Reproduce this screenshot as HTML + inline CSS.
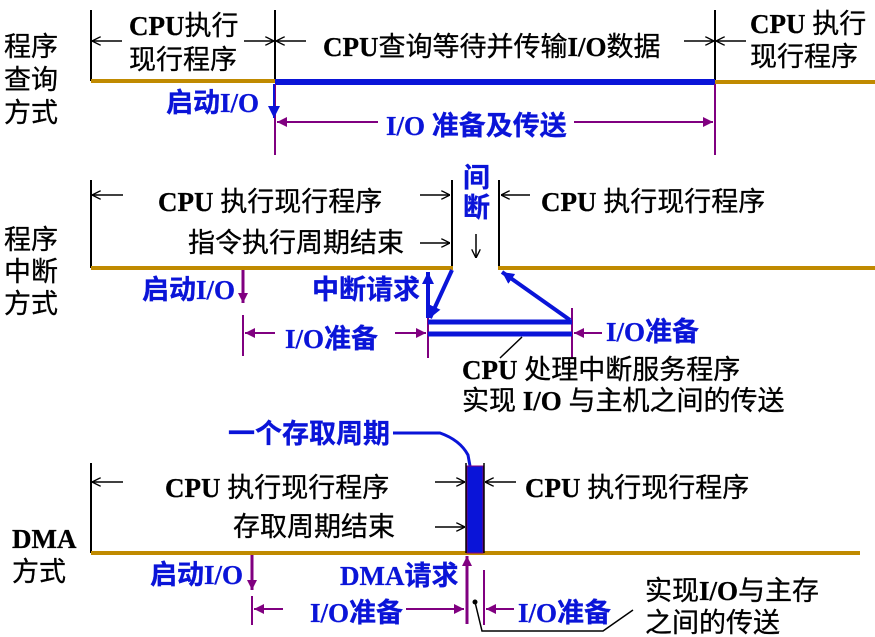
<!DOCTYPE html>
<html><head><meta charset="utf-8"><style>
html,body{margin:0;padding:0;background:#fff;}
svg{display:block;}
text{font-family:"Liberation Serif","Noto Sans CJK SC",serif;font-size:27px;fill:#000;stroke:#000;stroke-width:0.3;}
.b{fill:#0a14d8;stroke:#0a14d8;font-weight:bold;}
.k{font-weight:bold;}
</style></head><body>
<svg width="875" height="637" viewBox="0 0 875 637" xmlns="http://www.w3.org/2000/svg">
<defs>
<marker id="ak" viewBox="0 0 10 10" refX="10" refY="5" markerWidth="9" markerHeight="9" markerUnits="userSpaceOnUse" orient="auto"><path d="M0,0 L10,5 L0,10" fill="none" stroke="#000" stroke-width="1.5"/></marker>
<marker id="ap" viewBox="0 0 10 10" refX="10" refY="5" markerWidth="10" markerHeight="10" markerUnits="userSpaceOnUse" orient="auto"><path d="M0,0 L10,5 L0,10 z" fill="#800080"/></marker>
<marker id="ab" viewBox="0 0 10 10" refX="10" refY="5" markerWidth="12" markerHeight="12" markerUnits="userSpaceOnUse" orient="auto"><path d="M0,0 L10,5 L0,10 z" fill="#0a14d8"/></marker>
</defs>

<!-- Section 1 -->
<text x="4" y="56">程序</text><text x="4" y="89">查询</text><text x="4" y="122">方式</text>
<line x1="91" y1="10" x2="91" y2="81" stroke="#000" stroke-width="2"/>
<line x1="275" y1="10" x2="275" y2="81" stroke="#000" stroke-width="2"/>
<line x1="715" y1="10" x2="715" y2="81" stroke="#000" stroke-width="2"/>
<line x1="91" y1="81" x2="275" y2="81" stroke="#c08a00" stroke-width="4"/>
<line x1="275" y1="82" x2="715" y2="82" stroke="#0a14d8" stroke-width="6"/>
<line x1="715" y1="82" x2="875" y2="82" stroke="#c08a00" stroke-width="4"/>
<line x1="275" y1="84" x2="275" y2="155" stroke="#800080" stroke-width="2"/>
<line x1="715" y1="84" x2="715" y2="155" stroke="#800080" stroke-width="2"/>
<line x1="122" y1="41" x2="92" y2="41" stroke="#000" stroke-width="1.5" marker-end="url(#ak)"/>
<line x1="244" y1="41" x2="274" y2="41" stroke="#000" stroke-width="1.5" marker-end="url(#ak)"/>
<line x1="306" y1="41" x2="276" y2="41" stroke="#000" stroke-width="1.5" marker-end="url(#ak)"/>
<line x1="684" y1="41" x2="714" y2="41" stroke="#000" stroke-width="1.5" marker-end="url(#ak)"/>
<line x1="746" y1="41" x2="716" y2="41" stroke="#000" stroke-width="1.5" marker-end="url(#ak)"/>
<text x="129" y="35"><tspan class="k">CPU</tspan>执行</text>
<text x="129" y="69">现行程序</text>
<text x="323" y="56"><tspan class="k">CPU</tspan>查询等待并传输<tspan class="k">I/O</tspan>数据</text>
<text x="750" y="33"><tspan class="k">CPU</tspan> 执行</text>
<text x="750" y="66">现行程序</text>
<text class="b" x="166" y="112">启动I/O</text>
<line x1="274" y1="84" x2="274" y2="118" stroke="#0a14d8" stroke-width="2" marker-end="url(#ab)"/>
<line x1="305" y1="122" x2="277" y2="122" stroke="#800080" stroke-width="2" marker-end="url(#ap)"/>
<line x1="305" y1="122" x2="378" y2="122" stroke="#800080" stroke-width="2"/>
<line x1="574" y1="122" x2="713" y2="122" stroke="#800080" stroke-width="2" marker-end="url(#ap)"/>
<text class="b" x="386" y="135">I/O 准备及传送</text>

<!-- Section 2 -->
<text x="4" y="249">程序</text><text x="4" y="281">中断</text><text x="4" y="313">方式</text>
<line x1="91" y1="180" x2="91" y2="268" stroke="#000" stroke-width="2"/>
<line x1="452" y1="180" x2="452" y2="268" stroke="#000" stroke-width="2"/>
<line x1="499" y1="180" x2="499" y2="268" stroke="#000" stroke-width="2"/>
<line x1="91" y1="268" x2="453" y2="268" stroke="#c08a00" stroke-width="4"/>
<line x1="498" y1="268" x2="875" y2="268" stroke="#c08a00" stroke-width="4"/>
<line x1="123" y1="195" x2="92" y2="195" stroke="#000" stroke-width="1.5" marker-end="url(#ak)"/>
<line x1="420" y1="195" x2="450" y2="195" stroke="#000" stroke-width="1.5" marker-end="url(#ak)"/>
<line x1="420" y1="243" x2="450" y2="243" stroke="#000" stroke-width="1.5" marker-end="url(#ak)"/>
<line x1="530" y1="195" x2="501" y2="195" stroke="#000" stroke-width="1.5" marker-end="url(#ak)"/>
<line x1="476" y1="234" x2="476" y2="258" stroke="#000" stroke-width="1.5" marker-end="url(#ak)"/>
<text x="158" y="211"><tspan class="k">CPU</tspan>  执行现行程序</text>
<text x="188" y="252">指令执行周期结束</text>
<text x="541" y="211"><tspan class="k">CPU</tspan>  执行现行程序</text>
<text class="b" x="463" y="187">间</text>
<text class="b" x="463" y="217">断</text>
<text class="b" x="142" y="299">启动I/O</text>
<line x1="243" y1="270" x2="243" y2="303" stroke="#800080" stroke-width="3" marker-end="url(#ap)"/>
<line x1="243" y1="315" x2="243" y2="356" stroke="#800080" stroke-width="2"/>
<line x1="275" y1="333" x2="245" y2="333" stroke="#800080" stroke-width="2" marker-end="url(#ap)"/>
<line x1="395" y1="333" x2="426" y2="333" stroke="#800080" stroke-width="2" marker-end="url(#ap)"/>
<text class="b" x="285" y="348">I/O准备</text>
<line x1="428" y1="310" x2="428" y2="358" stroke="#800080" stroke-width="2"/>
<line x1="572" y1="308" x2="572" y2="358" stroke="#800080" stroke-width="2"/>
<line x1="428" y1="322" x2="572" y2="322" stroke="#0a14d8" stroke-width="5"/>
<line x1="428" y1="334" x2="572" y2="334" stroke="#0a14d8" stroke-width="5"/>
<line x1="452" y1="270" x2="430" y2="318" stroke="#0a14d8" stroke-width="4" marker-end="url(#ab)"/>
<line x1="428" y1="318" x2="428" y2="272" stroke="#0a14d8" stroke-width="4" marker-end="url(#ab)"/>
<line x1="570" y1="320" x2="502" y2="272" stroke="#0a14d8" stroke-width="4" marker-end="url(#ab)"/>
<line x1="602" y1="333" x2="574" y2="333" stroke="#800080" stroke-width="2" marker-end="url(#ap)"/>
<text class="b" x="606" y="341">I/O准备</text>
<text class="b" x="312" y="299">中断请求</text>
<line x1="522" y1="337" x2="500" y2="358" stroke="#000" stroke-width="1.5"/>
<text x="462" y="379"><tspan class="k">CPU</tspan> 处理中断服务程序</text>
<text x="462" y="410">实现 <tspan class="k">I/O</tspan> 与主机之间的传送</text>

<!-- Section 3 -->
<text class="b" x="228" y="443">一个存取周期</text>
<path d="M393,433 L440,433 Q460,440 468,455 L470,466" fill="none" stroke="#0a14d8" stroke-width="3"/>
<text class="k" x="12" y="548">DMA</text><text x="12" y="581">方式</text>
<line x1="91" y1="463" x2="91" y2="553" stroke="#000" stroke-width="2"/>
<line x1="91" y1="553" x2="860" y2="553" stroke="#c08a00" stroke-width="4"/>
<rect x="467" y="466" width="16" height="87" fill="#0a14d8" stroke="#800080" stroke-width="1"/>
<line x1="466" y1="463" x2="466" y2="553" stroke="#000" stroke-width="1.5"/>
<line x1="484" y1="463" x2="484" y2="553" stroke="#000" stroke-width="1.5"/>
<line x1="123" y1="482" x2="92" y2="482" stroke="#000" stroke-width="1.5" marker-end="url(#ak)"/>
<line x1="435" y1="482" x2="465" y2="482" stroke="#000" stroke-width="1.5" marker-end="url(#ak)"/>
<line x1="435" y1="527" x2="465" y2="527" stroke="#000" stroke-width="1.5" marker-end="url(#ak)"/>
<line x1="516" y1="482" x2="485" y2="482" stroke="#000" stroke-width="1.5" marker-end="url(#ak)"/>
<text x="165" y="497"><tspan class="k">CPU</tspan>  执行现行程序</text>
<text x="233" y="536">存取周期结束</text>
<text x="525" y="497"><tspan class="k">CPU</tspan>  执行现行程序</text>
<text class="b" x="150" y="584">启动I/O</text>
<line x1="252" y1="555" x2="252" y2="590" stroke="#800080" stroke-width="3" marker-end="url(#ap)"/>
<line x1="252" y1="596" x2="252" y2="625" stroke="#800080" stroke-width="2"/>
<line x1="283" y1="609" x2="254" y2="609" stroke="#800080" stroke-width="2" marker-end="url(#ap)"/>
<line x1="406" y1="609" x2="464" y2="609" stroke="#800080" stroke-width="2" marker-end="url(#ap)"/>
<text class="b" x="310" y="622">I/O准备</text>
<text class="b" x="340" y="585">DMA请求</text>
<line x1="467" y1="624" x2="467" y2="556" stroke="#800080" stroke-width="3" marker-end="url(#ap)"/>
<line x1="484" y1="570" x2="484" y2="625" stroke="#800080" stroke-width="2"/>
<line x1="514" y1="609" x2="486" y2="609" stroke="#800080" stroke-width="2" marker-end="url(#ap)"/>
<text class="b" x="518" y="622">I/O准备</text>
<circle cx="475" cy="602" r="2.5" fill="#000"/>
<polyline points="475,602 482,631 603,631 633,610" fill="none" stroke="#000" stroke-width="1.5"/>
<text x="645" y="600">实现<tspan class="k">I/O</tspan>与主存</text>
<text x="645" y="632">之间的传送</text>
</svg>
</body></html>
